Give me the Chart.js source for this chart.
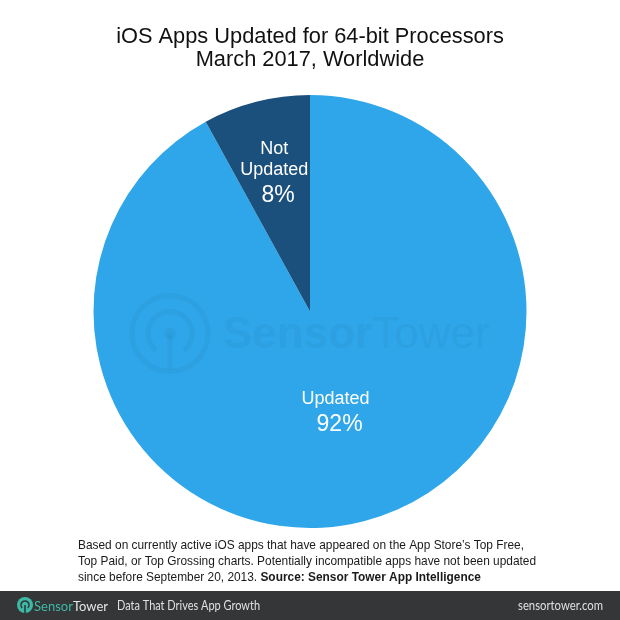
<!DOCTYPE html>
<html>
<head>
<meta charset="utf-8">
<script src="https://cdn.jsdelivr.net/npm/chart.js@4"></script>
<style>
  html, body { margin: 0; padding: 0; background: #ffffff; }
  #wrap { width: 620px; height: 620px; position: relative; }
</style>
</head>
<body>
<div id="wrap"><canvas id="c" width="620" height="620"></canvas></div>
<script>
// ---- data ----
const categories = ['Updated', 'Not Updated'];
const shares = [92, 8];
const labelLines = [['Updated'], ['Not', 'Updated']];
const titleLines = ['iOS Apps Updated for 64-bit Processors', 'March 2017, Worldwide'];
const noteLines = [
  [{t: "Based on currently active iOS apps that have appeared on the App Store\u2019s Top Free,", b: false}],
  [{t: "Top Paid, or Top Grossing charts. Potentially incompatible apps have not been updated", b: false}],
  [{t: "since before September 20, 2013. ", b: false}, {t: "Source: Sensor Tower App Intelligence", b: true}]
];
const footerTagline = 'Data That Drives App Growth';
const footerUrl = 'sensortower.com';

// ---- styles ----
const sliceColors = ['#2ea6e9', '#1b4f7c'];
const labelRadius = [0.475, 0.665];
const SANS = '"Liberation Sans", Arial, Helvetica, sans-serif';
const FOOT = 'Lato, "Open Sans", sans-serif';

function fitText(ctx, text, x, y, targetW) {
  const w = ctx.measureText(text).width;
  const s = targetW / w;
  ctx.save();
  ctx.translate(x, y);
  ctx.scale(s, 1);
  ctx.fillText(text, 0, 0);
  ctx.restore();
  return targetW;
}

const decor = {
  id: 'decor',
  afterDatasetsDraw(chart) {
    const ctx = chart.ctx;
    const meta = chart.getDatasetMeta(0);
    const arc0 = meta.data[0];
    const cx = arc0.x, cy = arc0.y;

    // watermark
    ctx.save();
    const wm = 'rgba(0,0,0,0.035)';
    ctx.strokeStyle = wm;
    ctx.fillStyle = wm;
    const wx = cx - 140, wy = cy + 22;
    ctx.lineWidth = 5;
    ctx.beginPath(); ctx.arc(wx, wy, 38, 0, Math.PI * 2); ctx.stroke();
    ctx.beginPath(); ctx.arc(wx, wy, 22, Math.PI * 0.72, Math.PI * 2.28); ctx.stroke();
    ctx.beginPath(); ctx.arc(wx, wy, 6, 0, Math.PI * 2); ctx.fill();
    ctx.beginPath(); ctx.moveTo(wx, wy); ctx.lineTo(wx, wy + 36); ctx.stroke();
    ctx.font = 'bold 44px ' + SANS;
    ctx.textBaseline = 'middle';
    ctx.textAlign = 'left';
    const s1 = 'Sensor';
    ctx.fillText(s1, wx + 53, wy + 2);
    const w1 = ctx.measureText(s1).width;
    ctx.font = '44px ' + SANS;
    ctx.fillText('Tower', wx + 53 + w1, wy + 2);
    ctx.restore();

    // slice labels
    ctx.save();
    ctx.fillStyle = '#ffffff';
    ctx.textAlign = 'center';
    ctx.textBaseline = 'middle';
    meta.data.forEach((arc, i) => {
      const mid = (arc.startAngle + arc.endAngle) / 2;
      const r = arc.outerRadius * labelRadius[i];
      const lx = arc.x + Math.cos(mid) * r;
      const ly = arc.y + Math.sin(mid) * r;
      const lines = labelLines[i];
      const n = lines.length;
      const lh = 21;
      const total = n * lh + 25;
      let y = ly - total / 2 + lh / 2;
      ctx.font = '18px ' + SANS;
      lines.forEach(t => { ctx.fillText(t, lx, y); y += lh; });
      ctx.font = '23px ' + SANS;
      ctx.fillText(shares[i] + '%', lx + 4, y + 5);
    });
    ctx.restore();
  },
  afterDraw(chart) {
    const ctx = chart.ctx;
    const W = chart.width;
    ctx.save();
    // title
    ctx.fillStyle = '#111111';
    ctx.textAlign = 'center';
    ctx.textBaseline = 'middle';
    ctx.font = '21.8px ' + SANS;
    ctx.fillText(titleLines[0], W / 2, 37);
    ctx.fillText(titleLines[1], W / 2, 60);

    // footnote
    ctx.textAlign = 'left';
    ctx.fillStyle = '#1a1a1a';
    const ys = [546, 562, 578];
    noteLines.forEach((parts, i) => {
      let x = 78;
      parts.forEach(p => {
        ctx.font = (p.b ? 'bold ' : '') + '11.9px ' + SANS;
        ctx.fillText(p.t, x, ys[i]);
        x += ctx.measureText(p.t).width;
      });
    });

    // footer bar
    ctx.fillStyle = '#343638';
    ctx.fillRect(0, 591, W, 29);
    // logo
    const lx = 25, ly = 605;
    ctx.fillStyle = '#3dbaa6';
    ctx.beginPath(); ctx.arc(lx, ly, 8, 0, Math.PI * 2); ctx.fill();
    ctx.strokeStyle = '#343638';
    ctx.lineWidth = 1.6;
    ctx.beginPath(); ctx.arc(lx, ly, 4, Math.PI * 0.75, Math.PI * 2.25); ctx.stroke();
    ctx.beginPath(); ctx.moveTo(lx, ly); ctx.lineTo(lx, ly + 8); ctx.stroke();
    ctx.textBaseline = 'middle';
    ctx.textAlign = 'left';
    ctx.font = '14px ' + FOOT;
    ctx.fillStyle = '#3dbaa6';
    const sw = ctx.measureText('Sensor').width;
    const tw = ctx.measureText('Tower').width;
    const k = 74 / (sw + tw);
    fitText(ctx, 'Sensor', 34, 606, sw * k);
    ctx.fillStyle = '#e6e6e6';
    fitText(ctx, 'Tower', 34 + sw * k, 606, tw * k);
    ctx.fillStyle = '#e0e0e0';
    ctx.font = '13px ' + FOOT;
    fitText(ctx, footerTagline, 117, 606, 143);
    const uw = 85;
    fitText(ctx, footerUrl, 603 - uw, 606, uw);
    ctx.restore();
  }
};

new Chart(document.getElementById('c'), {
  type: 'pie',
  data: {
    labels: categories,
    datasets: [{
      data: shares,
      backgroundColor: sliceColors,
      borderWidth: 0
    }]
  },
  options: {
    responsive: false,
    animation: false,
    layout: { padding: { left: 93, right: 93, top: 95, bottom: 92 } },
    plugins: {
      legend: { display: false },
      tooltip: { enabled: false },
      title: { display: false }
    }
  },
  plugins: [decor]
});
</script>
</body>
</html>
